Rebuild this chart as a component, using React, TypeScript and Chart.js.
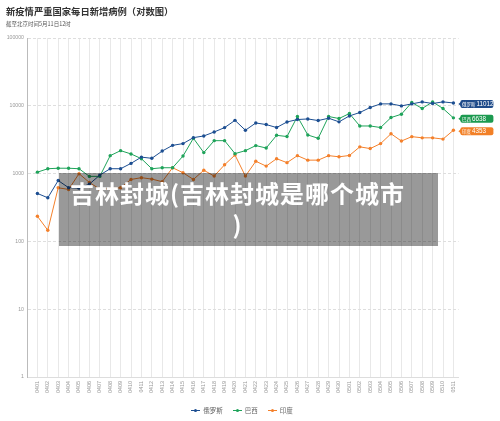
import React, { useEffect, useRef } from "react";
import { Chart, registerables } from "chart.js";

Chart.register(...registerables);

const dates = [
  "0401", "0402", "0403", "0404", "0405", "0406", "0407", "0408", "0409", "0410",
  "0411", "0412", "0413", "0414", "0415", "0416", "0417", "0418", "0419", "0420",
  "0421", "0422", "0423", "0424", "0425", "0426", "0427", "0428", "0429", "0430",
  "0501", "0502", "0503", "0504", "0505", "0506", "0507", "0508", "0509", "0510",
  "0511",
];

const seriesNames = ["俄罗斯", "巴西", "印度"];

const russia = [
  510, 440, 790, 620, 610, 700, 950, 1180, 1180, 1415,
  1750, 1680, 2150, 2610, 2770, 3390, 3590, 4110, 4770, 6100,
  4360, 5580, 5290, 4780, 5780, 6270, 6400, 6060, 6560, 5800,
  7090, 7960, 9440, 10670, 10670, 9970, 10670, 11420, 10810, 11420,
  11012,
];

const brazil = [
  1050, 1180, 1200, 1200, 1180, 910, 910, 1840, 2180, 1950,
  1660, 1180, 1220, 1220, 1815, 3320, 2040, 3060, 3060, 1970,
  2180, 2590, 2385, 3670, 3520, 6950, 3710, 3320, 6950, 6490,
  7690, 5040, 5040, 4780, 6710, 7510, 11200, 9120, 11420, 9120,
  6638,
];

const india = [
  235, 146, 618, 584, 997, 740, 590, 600, 618, 820,
  870, 830, 760, 1220, 1030, 820, 1120, 920, 1350, 1880,
  918, 1520, 1290, 1660, 1450, 1840, 1580, 1580, 1840, 1770,
  1850, 2480, 2340, 2770, 3870, 3020, 3510, 3370, 3370, 3230,
  4353,
];

const yTicks = [1, 10, 100, 1000, 10000, 100000];

const lineColors = ["#1c4e91", "#1fa35a", "#f4802b"];
const tagColors = ["#1f4b8a", "#1c9a50", "#f28027"];

const cjk = '"Noto Sans CJK SC", "Noto Sans", sans-serif';
const latin = '"Liberation Sans", "DejaVu Sans", sans-serif';

const endLabelPlugin = {
  id: "endLabels",
  afterDatasetsDraw(chart: any) {
    const ctx = chart.ctx as CanvasRenderingContext2D;
    ctx.save();
    chart.data.datasets.forEach((ds: any, i: number) => {
      const meta = chart.getDatasetMeta(i);
      const el = meta.data[meta.data.length - 1];
      if (!el) return;
      const x0 = el.x + 7;
      const y0 = el.y + 1;
      const w = 33;
      const h = 8;
      ctx.fillStyle = tagColors[i];
      ctx.beginPath();
      ctx.roundRect(x0, y0 - h / 2, w, h, 2);
      ctx.fill();
      ctx.beginPath();
      ctx.moveTo(x0 - 2, y0);
      ctx.lineTo(x0 + 1, y0 - 2.5);
      ctx.lineTo(x0 + 1, y0 + 2.5);
      ctx.closePath();
      ctx.fill();
      const vals = ds.data;
      const last = vals[vals.length - 1].y;
      ctx.fillStyle = "#ffffff";
      ctx.textBaseline = "middle";
      ctx.textAlign = "left";
      ctx.font = `4.5px ${cjk}`;
      ctx.fillText(ds.label, x0 + 1.5, y0 + 0.3);
      const nw = ctx.measureText(ds.label).width;
      ctx.font = `6.3px ${latin}`;
      ctx.fillText(String(last), x0 + 2.5 + nw, y0 + 0.3);
    });
    ctx.restore();
  },
};

export default function App() {
  const ref = useRef<HTMLCanvasElement>(null);

  useEffect(() => {
    const series = [russia, brazil, india];
    const chart = new Chart(ref.current as HTMLCanvasElement, {
      type: "line",
      data: {
        datasets: series.map((vals, i) => ({
          label: seriesNames[i],
          data: vals.map((v, j) => ({ x: j, y: v })),
          borderColor: lineColors[i],
          backgroundColor: lineColors[i],
          borderWidth: 1,
          pointRadius: 1.7,
          pointBorderWidth: 0,
          pointBackgroundColor: lineColors[i],
          tension: 0,
        })),
      },
      options: {
        animation: false,
        responsive: true,
        maintainAspectRatio: false,
        layout: { padding: { top: 38, left: 0, right: 41.4, bottom: 0 } },
        plugins: {
          legend: { display: false },
          tooltip: { enabled: false },
          title: { display: false },
        },
        scales: {
          x: {
            type: "linear",
            min: -1,
            max: 40.5,
            afterBuildTicks: (s: any) => {
              s.ticks = dates.map((_, i) => ({ value: i }));
            },
            afterFit: (s: any) => {
              s.height = 44;
            },
            ticks: {
              autoSkip: false,
              minRotation: 90,
              maxRotation: 90,
              padding: 4,
              color: "#999",
              font: { size: 5.4, family: latin },
              callback: (v: any) => dates[v] ?? "",
            },
            grid: { color: "#e8e8e8", drawTicks: false, lineWidth: 1 },
            border: { color: "#dddddd" },
          },
          y: {
            type: "logarithmic",
            min: 1,
            max: 100000,
            afterBuildTicks: (s: any) => {
              s.ticks = yTicks.map((v) => ({ value: v }));
            },
            afterFit: (s: any) => {
              s.width = 27;
            },
            ticks: {
              padding: 3,
              color: "#999",
              font: { size: 5.2, family: latin },
              callback: (v: any) => String(v),
            },
            grid: { color: "#dedede", drawTicks: false, lineWidth: 1 },
            border: { color: "#bbbbbb", dash: [3, 2] },
          },
        },
      },
      plugins: [endLabelPlugin],
    } as any);
    return () => chart.destroy();
  }, []);

  const legendItems = seriesNames.map((n, i) => (
    <div key={n} style={{ display: "flex", alignItems: "center", marginRight: i < 2 ? 10 : 0 }}>
      <span style={{ position: "relative", width: 9, height: 7, marginRight: 3, display: "inline-block" }}>
        <span style={{ position: "absolute", left: 0, top: 3, width: 9, height: 1, background: lineColors[i] }} />
        <span style={{ position: "absolute", left: 3, top: 2, width: 3, height: 3, borderRadius: 2, background: lineColors[i] }} />
      </span>
      <span style={{ fontSize: 6.5, color: "#666", fontFamily: cjk, lineHeight: "7px" }}>{n}</span>
    </div>
  ));

  return (
    <div style={{ position: "absolute", left: 0, top: 0, width: 500, height: 421, background: "#fff", overflow: "hidden" }}>
      <canvas ref={ref} style={{ position: "absolute", left: 0, top: 0, width: 500, height: 421 }} />
      <div style={{ position: "absolute", left: 6, top: 4, fontFamily: cjk, fontWeight: 700, fontSize: 9.3, color: "#333", whiteSpace: "nowrap", lineHeight: "14px" }}>
        新疫情严重国家每日新增病例（对数图）
      </div>
      <div style={{ position: "absolute", left: 6, top: 20, fontFamily: cjk, fontSize: 5.5, color: "#555", whiteSpace: "nowrap", lineHeight: "8px" }}>
        截至北京时间5月11日12时
      </div>
      <div style={{ position: "absolute", left: 0, top: 407, width: 500, display: "flex", justifyContent: "center" }}>
        <div style={{ display: "flex", marginLeft: -16 }}>{legendItems}</div>
      </div>
      <div style={{ position: "absolute", left: 59, top: 173, width: 379, height: 73, background: "rgba(0,0,0,0.4)", boxSizing: "border-box", paddingTop: 4, paddingRight: 22, textAlign: "center", color: "#fff", fontFamily: cjk, fontWeight: 700, fontSize: 24, letterSpacing: 1, lineHeight: "31px", whiteSpace: "nowrap" }}>
        吉林封城(吉林封城是哪个城市
        <br />)
      </div>
    </div>
  );
}
